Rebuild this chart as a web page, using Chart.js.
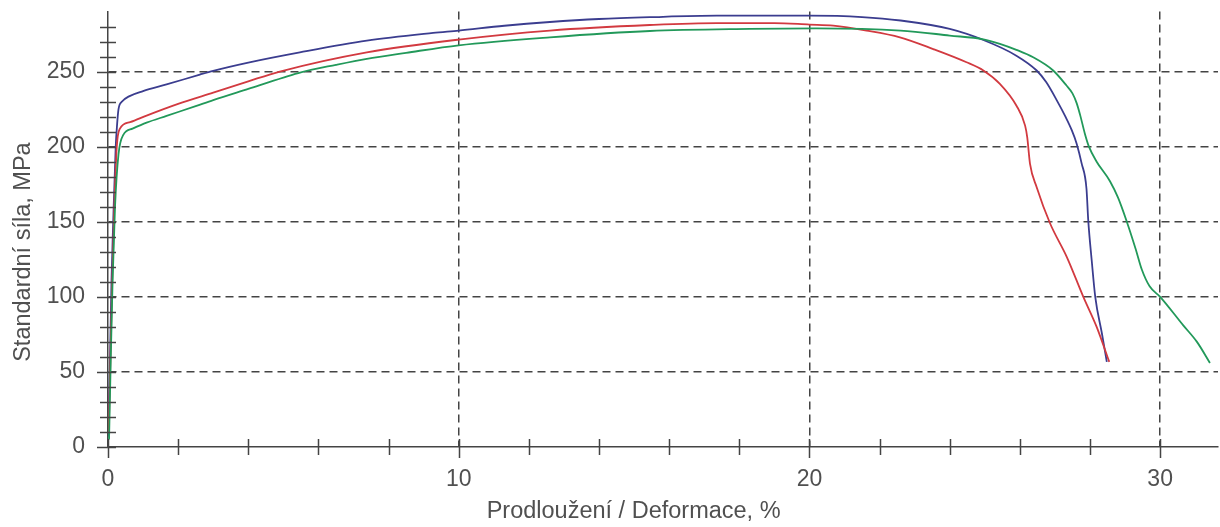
<!DOCTYPE html>
<html><head><meta charset="utf-8">
<script src="https://cdn.jsdelivr.net/npm/chart.js@4.4.0/dist/chart.umd.min.js"></script>
<style>html,body{margin:0;padding:0;background:#fff;}#wrap{width:1220px;height:527px;position:relative;}</style>
</head><body><div id="wrap"><canvas id="c" width="1220" height="527"></canvas></div>
<script>
// ---- tick values / labels ----
const xTickValues = [0,2,4,6,8,10,12,14,16,18,20,22,24,26,28,30];
const xLabeledTicks = [0,10,20,30];
const yTickValues = [0,10,20,30,40,50,60,70,80,90,100,110,120,130,140,150,160,170,180,190,200,210,220,230,240,250,260,270,280];
const yLabeledTicks = [0,50,100,150,200,250];
const xTitle = 'Prodloužení / Deformace, %';
const yTitle = 'Standardní síla, MPa';

// ---- series (x = elongation %, y = stress MPa) ----
const blueX = [0.01,0.06,0.10,0.15,0.22,0.26,0.30,0.40,0.60,1.0,1.67,2.62,3.0,4.0,5.47,7.38,9.27,10,11.3,12.6,14,15.45,17.36,20,21.5,22.6,24,24.96,25.9,26.48,26.75,27.05,27.3,27.48,27.62,27.76,27.9,27.95,28.05,28.15,28.34,28.48];
const blueY = [7,62,111,151,200,215,225,230,233.5,237,241.4,248,250.5,256,262.8,270.6,275.7,277.3,280.5,283,285,286.2,287.2,287.2,286.3,284,278.4,271,260.6,250.7,243,231,220,211,202,189,172,151,124,100,75.6,56.7];

const redX = [0.02,0.07,0.12,0.18,0.25,0.34,0.63,1.1,2.0,3.0,4.0,4.9,7.38,10,12.6,15.45,17.36,19,20,20.68,21.63,22.58,23.53,24.48,24.96,25.43,25.9,26.15,26.21,26.29,26.48,26.86,27.34,27.81,28.19,28.55];
const redY = [10,60,110,160,200,212,216.3,220.7,228.5,236,243.5,250,262.8,271.3,277.3,281,282.3,282.3,281.3,280.6,277.3,272.8,265,256.2,250.7,241.8,227.4,214,206.3,188.6,173,149,126.5,100,80,56.7];

const greenX = [0.03,0.08,0.13,0.20,0.30,0.44,0.70,1.1,1.67,2.5,3.0,4.0,5.0,5.5,6.5,7.38,8.5,10,12.6,15.45,18.3,20.2,22.6,24,24.96,25.43,25.9,26.38,26.95,27.33,27.5,27.62,27.72,27.85,27.97,28.19,28.57,28.8,29.05,29.3,29.48,29.7,30.0,30.66,31.05,31.42];
const greenY = [5,60,110,160,195,208,212,216,220.5,227,231,238.5,246,249.5,254.5,258.5,262.5,267.5,272.8,277,278.4,278.8,277.3,274,271.5,268.5,264.5,259.5,250.7,240.7,235.5,229,221,209,200,190,177,166,150,132,118,107,100,81,70,56];

const toPoints = (xs, ys) => xs.map((x, i) => ({x, y: ys[i]}));

const AXIS = '#444';
const TEXT = '#505050';
const FONT = "'Liberation Sans', Arial, sans-serif";

const tickMarks = {
  id: 'tickMarks',
  afterDraw(chart) {
    const {ctx, scales: {x, y}} = chart;
    const ax = x.getPixelForValue(0);
    const ay = y.getPixelForValue(0);
    ctx.save();
    ctx.strokeStyle = AXIS;
    ctx.lineWidth = 1.5;
    ctx.beginPath();
    y.ticks.forEach(t => {
      const py = Math.round(y.getPixelForValue(t.value)) + 0.5;
      const major = yLabeledTicks.includes(t.value);
      ctx.moveTo(ax - (major ? 11 : 8), py);
      ctx.lineTo(ax + 8, py);
    });
    x.ticks.forEach(t => {
      const px = Math.round(x.getPixelForValue(t.value)) + 0.5;
      const major = xLabeledTicks.includes(t.value);
      ctx.moveTo(px, ay - 8);
      ctx.lineTo(px, ay + (major ? 11 : 8));
    });
    ctx.stroke();
    ctx.restore();
  }
};

const ds = (label, xs, ys, color) => ({
  label, data: toPoints(xs, ys), borderColor: color, backgroundColor: color,
  borderWidth: 1.8, pointRadius: 0, fill: false, cubicInterpolationMode: 'monotone'
});

new Chart(document.getElementById('c'), {
  type: 'line',
  data: {
    datasets: [
      ds('green', greenX, greenY, '#22995a'),
      ds('red', redX, redY, '#d23a40'),
      ds('blue', blueX, blueY, '#3b3d8f')
    ]
  },
  options: {
    responsive: false,
    animation: false,
    layout: {padding: {top: 11, right: 2, left: 0, bottom: 0}},
    plugins: {legend: {display: false}, tooltip: {enabled: false}},
    scales: {
      x: {
        type: 'linear', min: 0, max: 31.65,
        afterBuildTicks: s => { s.ticks = xTickValues.map(v => ({value: v})); },
        afterFit: s => { s.height = 80; },
        ticks: {
          autoSkip: false, maxRotation: 0, padding: 0, color: TEXT,
          font: {family: FONT, size: 23},
          callback: v => xLabeledTicks.includes(v) ? String(v) : ''
        },
        grid: {
          drawTicks: true, tickLength: 19, tickColor: 'rgba(0,0,0,0)', lineWidth: 1.5,
          color: c => (c.tick && c.tick.value !== 0 && xLabeledTicks.includes(c.tick.value)) ? AXIS : 'rgba(0,0,0,0)'
        },
        border: {display: true, color: AXIS, width: 1.5, dash: [8, 5]},
        title: {display: true, text: xTitle + '         ', color: TEXT,
          font: {family: FONT, size: 23.5}, padding: {top: 0, bottom: 1}}
      },
      y: {
        type: 'linear', min: 0, max: 290,
        afterBuildTicks: s => { s.ticks = yTickValues.map(v => ({value: v})); },
        afterFit: s => { s.width = 108; },
        ticks: {
          autoSkip: false, padding: 0, color: TEXT,
          font: {family: FONT, size: 23, lineHeight: 1.0},
          callback: v => yLabeledTicks.includes(v) ? String(v) : ''
        },
        grid: {
          drawTicks: true, tickLength: 23, tickColor: 'rgba(0,0,0,0)', lineWidth: 1.5,
          color: c => (c.tick && c.tick.value !== 0 && yLabeledTicks.includes(c.tick.value)) ? AXIS : 'rgba(0,0,0,0)'
        },
        border: {display: true, color: AXIS, width: 1.5, dash: [8, 5]},
        title: {display: true, text: yTitle + '       ', color: TEXT,
          font: {family: FONT, size: 23.5}, padding: {top: 9, bottom: 0}}
      }
    }
  },
  plugins: [tickMarks]
});
</script>
</body></html>
